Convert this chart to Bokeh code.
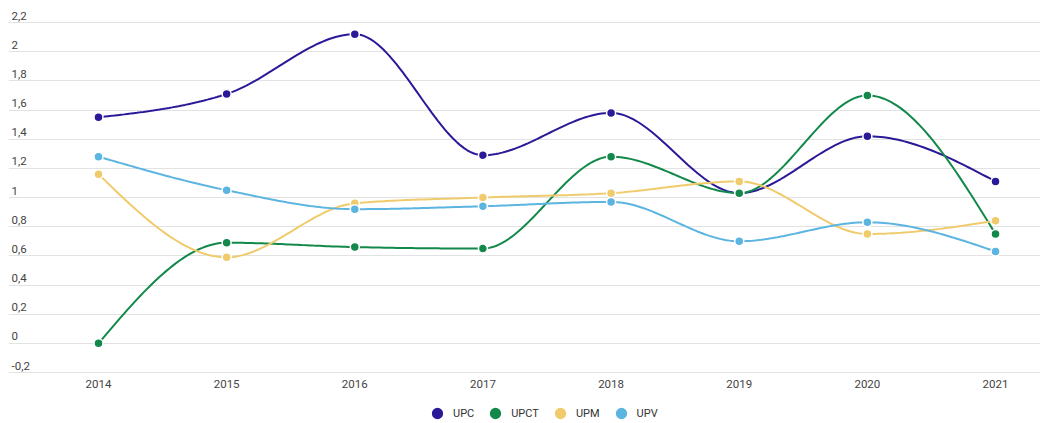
import numpy as np
from bokeh.plotting import figure
from bokeh.models import Range1d, FixedTicker, Legend, LegendItem, ColumnDataSource
from bokeh.core.properties import value
from bokeh.embed import file_html
from bokeh.resources import INLINE

years = ["2014", "2015", "2016", "2017", "2018", "2019", "2020", "2021"]
upc = [1.55, 1.71, 2.12, 1.29, 1.58, 1.03, 1.42, 1.11]
upct = [0.0, 0.69, 0.66, 0.65, 1.28, 1.03, 1.70, 0.75]
upm = [1.16, 0.59, 0.96, 1.00, 1.03, 1.11, 0.75, 0.84]
upv = [1.28, 1.05, 0.92, 0.94, 0.97, 0.70, 0.83, 0.63]
series_names = ["UPC", "UPCT", "UPM", "UPV"]
series_values = [upc, upct, upm, upv]
colors = ["#2a1a98", "#12894a", "#f0cb6c", "#5cb4e0"]
y_ticks = [-0.2, 0, 0.2, 0.4, 0.6, 0.8, 1.0, 1.2, 1.4, 1.6, 1.8, 2.0, 2.2]
y_tick_labels = ["-0,2", "0", "0,2", "0,4", "0,6", "0,8", "1", "1,2", "1,4", "1,6", "1,8", "2", "2,2"]

FONT = "Roboto"


def monotone_x(xs, ys, n=40):
    xs = np.asarray(xs, float)
    ys = np.asarray(ys, float)
    m = len(xs)
    h = np.diff(xs)
    s = np.diff(ys) / h
    t = np.zeros(m)
    for i in range(1, m - 1):
        s0, s1 = s[i - 1], s[i]
        h0, h1 = h[i - 1], h[i]
        p = (s0 * h1 + s1 * h0) / (h0 + h1)
        t[i] = (np.sign(s0) + np.sign(s1)) * min(abs(s0), abs(s1), 0.5 * abs(p))
    t[0] = (3 * s[0] - t[1]) / 2
    t[-1] = (3 * s[-1] - t[-2]) / 2
    px, py = [], []
    for i in range(m - 1):
        x0, x1 = xs[i], xs[i + 1]
        y0, y1 = ys[i], ys[i + 1]
        dx = (x1 - x0) / 3
        c = [(x0, y0), (x0 + dx, y0 + t[i] * dx), (x1 - dx, y1 - t[i + 1] * dx), (x1, y1)]
        u = np.linspace(0, 1, n, endpoint=(i == m - 2))
        b = [(1 - u) ** 3, 3 * (1 - u) ** 2 * u, 3 * (1 - u) * u ** 2, u ** 3]
        px.extend(sum(b[k] * c[k][0] for k in range(4)))
        py.extend(sum(b[k] * c[k][1] for k in range(4)))
    return px, py


xs = list(range(len(years)))

p = figure(width=1040, height=421, output_backend="svg", toolbar_location=None,
           x_range=Range1d(-0.7023, 7.351), y_range=Range1d(-0.536, 2.3509),
           x_axis_location=None, y_axis_location=None,
           min_border_left=8, min_border_right=0,
           min_border_top=0, min_border_bottom=0)
p.outline_line_color = None
p.background_fill_color = "white"
p.border_fill_color = "white"

p.xgrid.grid_line_color = None
p.ygrid.ticker = FixedTicker(ticks=y_ticks)
p.ygrid.grid_line_color = "#e2e2e2"
p.ygrid.grid_line_width = 1

# y tick labels drawn above the grid lines at the left edge
ysrc = ColumnDataSource(dict(x=[p.x_range.start] * len(y_ticks), y=y_ticks, t=y_tick_labels))
p.text(x="x", y="y", text="t", source=ysrc, x_offset=3, y_offset=-3,
       text_baseline="bottom", text_align="left", text_font=value(FONT),
       text_font_size="11.5px", text_color="#444444")

# x (category) labels below the lowest grid line
xsrc = ColumnDataSource(dict(x=xs, y=[y_ticks[0]] * len(xs), t=years))
p.text(x="x", y="y", text="t", source=xsrc, y_offset=11,
       text_baseline="middle", text_align="center", text_font=value(FONT),
       text_font_size="11.5px", text_color="#444444")

items = []
for name, vals, col in zip(series_names, series_values, colors):
    cx, cy = monotone_x(xs, vals)
    p.line(cx, cy, line_color=col, line_width=2)
for name, vals, col in zip(series_names, series_values, colors):
    r = p.scatter(xs, vals, size=9, fill_color=col, line_color="white", line_width=1.5)
    items.append(LegendItem(label=name, renderers=[r]))

legend = Legend(items=items, orientation="horizontal", location=(413, -8),
                glyph_width=32, glyph_height=32, label_standoff=0, spacing=5,
                padding=0, margin=0, border_line_color=None,
                background_fill_alpha=0, label_text_font=FONT,
                label_text_font_size="11px", label_text_color="#333333")
p.add_layout(legend, "center")

open("out.html", "w").write(file_html(p, INLINE))
